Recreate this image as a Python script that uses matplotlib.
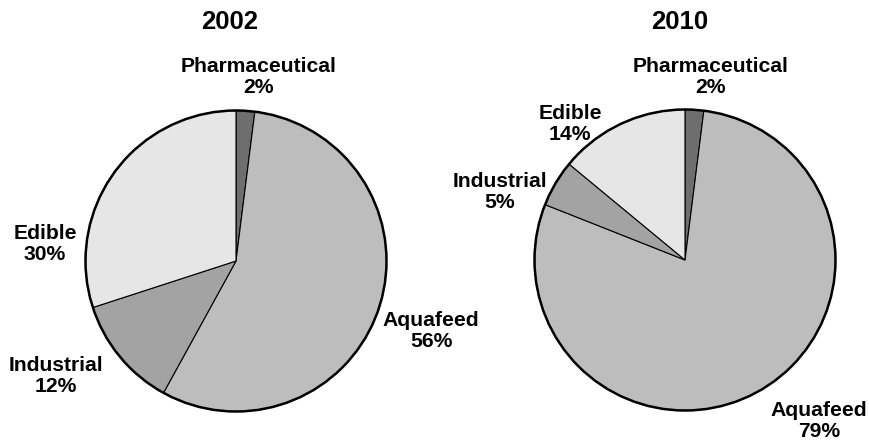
import matplotlib
matplotlib.use("Agg")
import matplotlib.pyplot as plt
from matplotlib.patches import Circle

categories = ["Pharmaceutical", "Aquafeed", "Industrial", "Edible"]
values_2002 = [2, 56, 12, 30]
values_2010 = [2, 79, 5, 14]
titles = ["2002", "2010"]
colors = ["#6e6e6e", "#bdbdbd", "#a3a3a3", "#e6e6e6"]

W, H = 870, 442
fig = plt.figure(figsize=(W / 100, H / 100), dpi=100)
plt.rcParams['font.family'] = ['Liberation Sans', 'DejaVu Sans']

def px(x, y):
    return x / W, 1 - y / H

pies = [
    dict(vals=values_2002, cx=236, cy=261, r=152, title=titles[0], tpos=(230, 22),
         lpos=[(259, 77), (431, 331), (56, 376), (45, 244)]),
    dict(vals=values_2010, cx=685, cy=260, r=152, title=titles[1], tpos=(680, 22),
         lpos=[(711, 77), (819, 421), (500, 192), (570, 124)]),
]

for p in pies:
    ax = fig.add_axes([(p['cx'] - p['r']) / W, (H - p['cy'] - p['r']) / H,
                       2 * p['r'] / W, 2 * p['r'] / H])
    wedges, _ = ax.pie(p['vals'], colors=colors, startangle=90, counterclock=False,
                       radius=1, wedgeprops=dict(edgecolor='black', linewidth=0.8))
    ax.add_patch(Circle((0, 0), 1, fill=False, edgecolor='black', linewidth=1.8))
    ax.set_xlim(-1.01, 1.01)
    ax.set_ylim(-1.01, 1.01)
    ax.set_aspect('equal')
    ax.axis('off')
    x, y = px(*p['tpos'])
    fig.text(x, y, p['title'], ha='center', va='center', fontsize=18.5, fontweight='bold')
    for cat, v, (lx, ly) in zip(categories, p['vals'], p['lpos']):
        x, y = px(lx, ly)
        fig.text(x, y, f"{cat}\n{v}%", ha='center', va='center', fontsize=15.2,
                 fontweight='bold', linespacing=1.1)

fig.savefig("out.png", dpi=100)
